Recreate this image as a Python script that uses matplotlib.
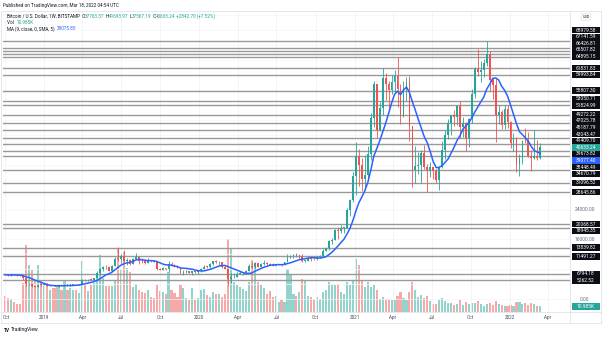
import matplotlib
matplotlib.use('Agg')
import matplotlib.pyplot as plt
import matplotlib.dates as mdates
from matplotlib.patches import Rectangle
import numpy as np
import pandas as pd

plt.rcParams['font.family'] = ['Roboto', 'DejaVu Sans']

# BITSTAMP BTCUSD, 1W candles, weeks starting 2018-10-01 .. 2022-03-14
first_open = 6600
closes = [
    # 2018 (from Oct)
    6590, 6380, 6520, 6480, 6440, 6380, 5590, 4020, 4150, 3530, 3250, 3880, 3850, 4040,
    # 2019
    3510, 3540, 3530, 3410, 3660, 3620, 3830, 3800, 3900, 4000, 3990, 4100, 5190,
    5070, 5290, 5280, 5770, 6980, 8200, 8740, 8560, 7640, 8980, 10860, 10800, 11460,
    10250, 10530, 9520, 10820, 11390, 10230, 10150, 9760, 10400, 10310, 10000, 8050,
    7870, 8280, 8220, 9550, 9200, 8810, 8500, 6910, 7420, 7520, 7070, 7510, 7390, 7760,
    # 2020
    8180, 8700, 8600, 9370, 10160, 9920, 9960, 8530, 8050, 5370, 5830, 5880, 6780,
    6900, 7120, 7700, 8900, 8720, 9680, 8720, 9450, 9750, 9330, 9300, 9010, 9080,
    9280, 9180, 9930, 11060, 11680, 11910, 11650, 11700, 10260, 10330, 10920, 10770,
    10680, 11380, 11510, 13030, 13770, 15480, 15970, 18400, 18180, 19150, 19170,
    23860, 26480, 32980,
    # 2021
    38200, 35950, 32280, 33110, 38880, 48580, 57490, 45220, 51190, 59300, 57540,
    55830, 58200, 59770, 56200, 49100, 56600, 58200, 46450, 34700, 35650, 35800,
    39100, 35500, 34700, 35300, 34260, 31800, 35400, 39850, 43800, 47100, 49300,
    48800, 51750, 46050, 47270, 43200, 48200, 54950, 61500, 60900, 61300, 63250,
    65500, 58700, 57250, 49400, 50100, 46700, 50800, 47300,
    # 2022
    41850, 43100, 36300, 37900, 42400, 42200, 38400, 37700, 38400, 37763.37, 40633.24,
]
highs = [
    6680, 6690, 6900, 6560, 6520, 6600, 6420, 5620, 4380, 4180, 3600, 4200, 4230, 4100,
    4100, 3700, 3640, 3560, 3700, 3700, 4200, 3900, 3930, 4050, 4100, 4130, 5350,
    5480, 5360, 5630, 5820, 7500, 8380, 8950, 9090, 8800, 9300, 11200, 13880, 12000,
    13200, 11100, 10660, 11100, 12320, 11450, 10950, 10650, 10950, 10450, 10350, 10050,
    8500, 8650, 8430, 10350, 9950, 9550, 9100, 8620, 7880, 7750, 7650, 7520, 7700, 7830,
    8460, 9190, 8800, 9610, 10170, 10500, 10250, 9960, 9190, 8170, 6950, 6990, 7200,
    7470, 7300, 7780, 9460, 10000, 9950, 9830, 9600, 10400, 9990, 9600, 9790, 9200,
    9480, 9340, 9970, 12080, 11900, 12050, 12470, 11800, 12090, 10580, 11180, 10990,
    10950, 11490, 11720, 13350, 14070, 15970, 16480, 18800, 19450, 19920, 19420,
    24300, 26900, 34000,
    41950, 40100, 37850, 38550, 40950, 49700, 58350, 57500, 52650, 61780, 60600,
    58400, 60100, 61200, 64900, 57500, 58400, 59500, 59600, 45800, 40900, 39500,
    39950, 41300, 36100, 36600, 35100, 34900, 35400, 42300, 45300, 48150, 49400,
    50500, 52000, 52900, 48800, 47300, 48500, 56100, 62000, 66900, 63700, 64300,
    68979.58, 66300, 59300, 59200, 51950, 50500, 51900, 52000,
    47550, 44450, 43500, 38950, 42600, 45850, 44750, 39800, 45400, 42500, 41693.97,
]
lows = [
    6480, 6180, 6350, 6390, 6240, 6360, 5250, 3500, 3700, 3280, 3200, 3220, 3600, 3700,
    3500, 3480, 3470, 3380, 3390, 3570, 3610, 3760, 3680, 3840, 3930, 3940, 4090,
    4900, 4990, 5050, 5250, 5670, 6600, 7500, 8000, 7450, 7500, 8900, 10330, 9600,
    10100, 9100, 9150, 9400, 10890, 9500, 9800, 9400, 9730, 9880, 9840, 7800,
    7750, 7780, 7900, 7300, 8950, 8650, 8380, 6800, 6520, 7140, 7000, 6430, 7150, 6870,
    7350, 8070, 8240, 8500, 9130, 9640, 9300, 8450, 8000, 3850, 4450, 5700, 5860,
    6750, 6470, 6800, 7650, 8120, 8200, 8650, 8640, 9300, 9200, 9200, 8830, 8900,
    9050, 9000, 9150, 9900, 10950, 11100, 11350, 11120, 9900, 9860, 10200, 10140,
    10380, 10530, 11150, 11400, 12900, 13220, 14850, 15800, 16200, 17600, 17600,
    19000, 22400, 25900,
    28000, 30400, 28850, 29250, 32300, 37350, 46200, 43000, 45000, 49300, 53250,
    50400, 54900, 55450, 51300, 47000, 48800, 52900, 42200, 30000, 31200, 33400,
    31100, 34800, 28800, 32700, 32100, 31050, 29300, 35200, 37600, 42800, 43950,
    46300, 46500, 43000, 43400, 39600, 40800, 47100, 53900, 59800, 58000, 59500,
    62300, 55600, 53500, 42000, 46850, 45500, 45600, 45700,
    40500, 39650, 34000, 32900, 36200, 41700, 38000, 34300, 37600, 37200, 37567.19,
]
# weekly volume, thousands of BTC
volumes = [
    32, 28, 26, 20, 16, 16, 58, 134, 94, 84, 64, 94, 62, 52,
    58, 44, 48, 48, 52, 44, 64, 44, 48, 44, 44, 38, 102, 54, 42, 54, 58, 74, 114,
    68, 52, 52, 52, 64, 128, 84, 120, 88, 80, 50, 56, 44, 40, 38, 44, 30, 28, 54,
    42, 40, 36, 80, 44, 38, 30, 54, 48, 28, 24, 48, 24, 28,
    44, 46, 34, 30, 40, 36, 36, 30, 36, 146, 128, 60, 54, 50, 46, 42, 60, 104, 94,
    60, 54, 48, 36, 42, 30, 32, 20, 24, 20, 86, 74, 36, 32, 40, 66, 64, 32, 30,
    26, 30, 26, 40, 44, 60, 54, 54, 56, 40, 36, 60, 54, 64,
    106, 94, 64, 50, 60, 50, 54, 44, 26, 30, 26, 26, 24, 24, 32, 40, 28, 24, 40,
    60, 44, 30, 34, 28, 32, 22, 16, 16, 24, 28, 22, 18, 18, 14, 16, 24, 14, 20,
    16, 18, 18, 22, 16, 12, 16, 18, 14, 22, 16, 14, 12, 12,
    14, 12, 20, 20, 16, 18, 14, 18, 16, 12, 10.985,
]

levels = [68979.58, 67141.59, 66426.81, 65507.82, 64895.15, 61831.83, 59993.84,
          55807.30, 53050.71, 51824.99, 49272.22, 47025.78, 45187.79, 43043.47,
          41409.70, 39673.82, 38448.49, 34670.79, 31096.52, 28645.86, 20068.57,
          18945.35, 13839.82, 11491.27, 6794.18, 5262.52]

month_ticks = ['2018-10-01', '2019-01-01', '2019-04-01', '2019-07-01', '2019-10-01',
               '2020-01-01', '2020-04-01', '2020-07-01', '2020-10-01', '2021-01-01',
               '2021-04-01', '2021-07-01', '2021-10-01', '2022-01-01', '2022-04-01']
month_labels = ['Oct', '2019', 'Apr', 'Jul', 'Oct', '2020', 'Apr', 'Jul', 'Oct',
                '2021', 'Apr', 'Jul', 'Oct', '2022', 'Apr']

UP, DOWN = '#26a69a', '#ef5350'
MA_COL = '#2962ff'
TXT = '#131722'

dates = pd.date_range('2018-10-01', periods=len(closes), freq='W-MON')
x = mdates.date2num(dates)
c = np.array(closes, float)
o = np.r_[first_open, c[:-1]]
h = np.array(highs, float)
l = np.array(lows, float)
v = np.array(volumes, float)
up = c >= o
cols = np.where(up, UP, DOWN)
ma = pd.Series(c).rolling(9, min_periods=1).mean().values

W, H = 602, 337
fig = plt.figure(figsize=(W / 100, H / 100), dpi=100)
fig.patch.set_facecolor('white')

PL, PR, PT, PB = 3, 570, 11, 312
pos = [PL / W, 1 - PB / H, (PR - PL) / W, (PB - PT) / H]
axv = fig.add_axes(pos)
ax = fig.add_axes(pos)
ax.patch.set_visible(False)

x0 = mdates.date2num(pd.Timestamp('2018-10-01'))
ax.set_xlim(x0 - 4.7, x0 + 1330)
axv.set_xlim(ax.get_xlim())
ax.set_ylim(-3396, 77086)
axv.set_ylim(0, 600)

# volume
axv.bar(x, v, width=5.0, color=np.where(up, '#92d3cc', '#f7a9a8'), zorder=1)

# grid
tick_x = mdates.date2num(pd.to_datetime(month_ticks))
for tx in tick_x:
    ax.axvline(tx, color='#f0f3fa', lw=0.6, zorder=0)
for gy in range(0, 80000, 4000):
    ax.axhline(gy, color='#f3f5f9', lw=0.5, zorder=0)

# horizontal levels
for lv in levels:
    ax.axhline(lv, color='#999999', lw=1.0, zorder=2)

# candles
ax.vlines(x, l, h, colors=cols, lw=0.6, zorder=3)
body = np.maximum(np.abs(c - o), 180)
ax.bar(x, body, bottom=np.minimum(o, c), width=4.2, color=cols, zorder=4)
ax.plot(x, ma, color=MA_COL, lw=1.1, zorder=5)

for a in (ax, axv):
    a.set_xticks([])
    a.set_yticks([])
    for s in a.spines.values():
        s.set_visible(False)

# frame
def hline_px(y, x1, x2, col='#e0e3eb'):
    fig.add_artist(plt.Line2D([x1 / W, x2 / W], [1 - y / H, 1 - y / H], color=col, lw=0.6))

def vline_px(xp, y1, y2, col='#e0e3eb'):
    fig.add_artist(plt.Line2D([xp / W, xp / W], [1 - y1 / H, 1 - y2 / H], color=col, lw=0.6))

hline_px(PT, 1, 601)
hline_px(PB, 1, 601)
hline_px(323, 1, 601)
vline_px(1, PT, 323)
vline_px(601, PT, 323)
vline_px(PR, PT, 323)

FS = 3.3
FSP = 3.5

def ypix(val, axis=ax):
    return H - axis.transData.transform((x0, val))[1]

def xpix(d):
    return ax.transData.transform((d, 0))[0]

def price_box(yp, s, col):
    fig.add_artist(Rectangle((571.5 / W, 1 - (yp + 3.2) / H), 28.5 / W, 6.4 / H,
                             transform=fig.transFigure, fc=col, ec='none', zorder=5))
    fig.text(585.8 / W, 1 - yp / H, s, color='white', fontsize=FSP,
             ha='center', va='center', zorder=6)

# price labels, pushed apart from the last price
cur = c[-1]
lab = [(lv, '#0c0e15') for lv in levels] + [(ma[-1], MA_COL)]
gap = 6.6
placed = [(cur, ypix(cur), UP)]
prev = ypix(cur)
for val, col in sorted([t for t in lab if t[0] > cur], key=lambda t: t[0]):
    yp = min(ypix(val), prev - gap)
    placed.append((val, yp, col))
    prev = yp
prev = ypix(cur)
for val, col in sorted([t for t in lab if t[0] < cur], key=lambda t: -t[0]):
    yp = max(ypix(val), prev + gap)
    placed.append((val, yp, col))
    prev = yp
for val, yp, col in placed:
    price_box(yp, f'{val:.2f}', col)
yv = ypix(v[-1], axv)
price_box(yv, f'{v[-1]:.3f}K', UP)

# price scale ticks that are not covered by a label
box_y = [p[1] for p in placed] + [yv]
for gy in range(0, 80000, 4000):
    yp = ypix(gy)
    if yp < PT + 14 or yp > PB - 4:
        continue
    if min(abs(yp - by) for by in box_y) < 5.2:
        continue
    fig.text(585 / W, 1 - yp / H, f'{gy:.2f}', color='#6a6d78', fontsize=FSP,
             va='center', ha='center', zorder=1)

# time axis
for tx, tl in zip(tick_x, month_labels):
    xp = xpix(tx)
    fig.text(max(xp, 6.5) / W, 1 - 317.5 / H, tl, color='#4a4e5a', fontsize=FS,
             ha='center', va='center')

# texts
renderer = fig.canvas.get_renderer()

def write_row(xp, yp, parts, size=FS):
    for s, col in parts:
        t = fig.text(xp / W, 1 - yp / H, s, color=col, fontsize=size, va='center', ha='left')
        xp += t.get_window_extent(renderer=renderer).width

fig.text(3 / W, 1 - 6 / H, 'Published on TradingView.com, Mar 18, 2022 04:54 UTC',
         color=TXT, fontsize=FS, va='center', ha='left')
write_row(7, 16, [('Bitcoin / U.S. Dollar, 1W, BITSTAMP', TXT), ('  O', TXT),
                  ('37763.37', UP), (' H', TXT), ('41693.97', UP), (' L', TXT),
                  ('37567.19', UP), (' C', TXT), ('40633.24', UP),
                  (' +2842.70 (+7.52%)', UP)])
write_row(7, 22.7, [('Vol  ', TXT), ('10.985K', UP)])
write_row(7, 29, [('MA (9, close, 0, SMA, 5)  ', TXT), ('39075.85', MA_COL)])
fig.text(586 / W, 1 - 17 / H, 'USD', color=TXT, fontsize=2.8, ha='center', va='center',
         bbox=dict(boxstyle='round,pad=0.3', fc='white', ec='#d1d4dc', lw=0.4))

fig.text(4 / W, 1 - 330 / H, 'TV', color=TXT, fontsize=3.4, fontweight='bold',
         ha='left', va='center')
fig.text(11 / W, 1 - 330 / H, 'TradingView', color=TXT, fontsize=3.6,
         ha='left', va='center')

fig.savefig('out.png', dpi=100)
